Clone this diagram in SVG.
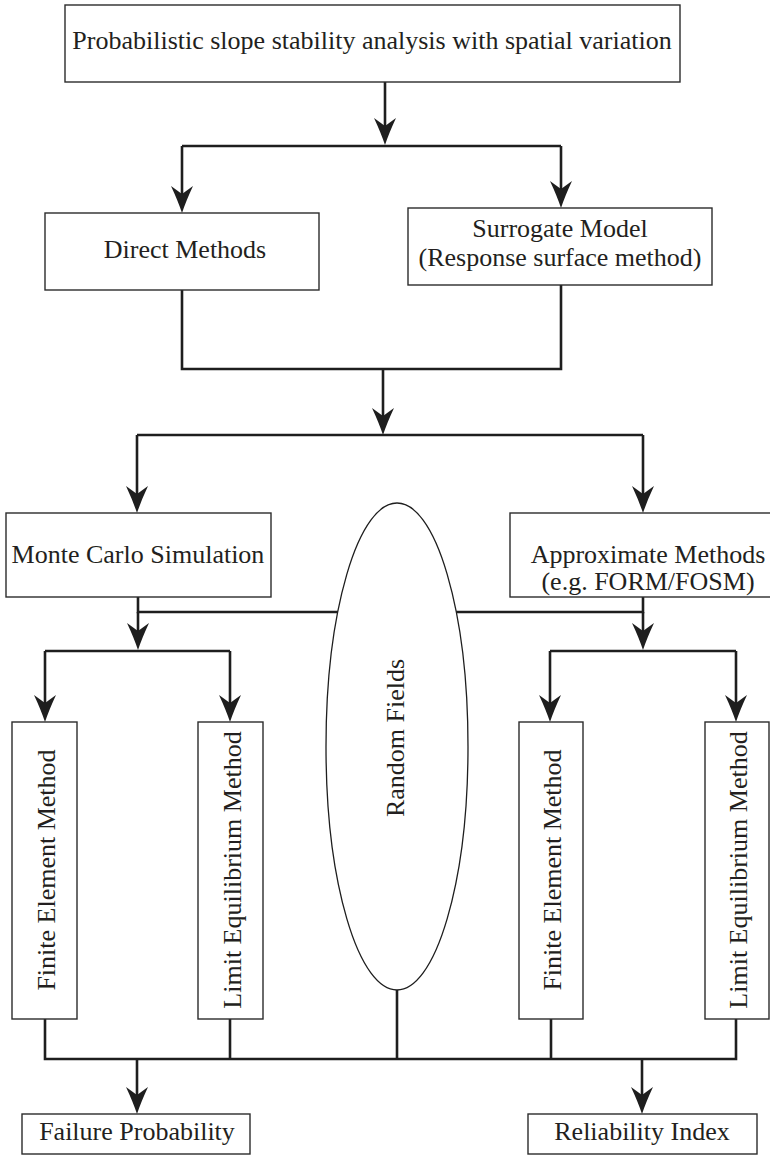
<svg xmlns="http://www.w3.org/2000/svg" width="770" height="1156" viewBox="0 0 770 1156">
<style>
  .box { fill: #ffffff; stroke: #2b2b2b; stroke-width: 1.4; }
  .ell { fill: none; stroke: #1e1e1e; stroke-width: 1.3; }
  .t { font-family: "Liberation Serif", "Times New Roman", serif; font-size: 26px; fill: #231f20; text-anchor: middle; }
  .ln { fill: none; stroke: #1e1e1e; stroke-width: 2.6; stroke-linecap: butt; stroke-linejoin: miter; }
  .arr { fill: none; stroke: #1e1e1e; stroke-width: 2.6; marker-end: url(#ah); }
</style>
<defs>
  <marker id="ah" markerUnits="userSpaceOnUse" viewBox="-22 -13 32 26" markerWidth="32" markerHeight="26" refX="0" refY="0" orient="auto" overflow="visible">
    <path d="M8,0 Q-4,-4 -19,-11 L-11,0 L-19,11 Q-4,4 8,0 Z" fill="#1e1e1e"/>
  </marker>
</defs>
<rect width="770" height="1156" fill="#ffffff"/>

<g id="connectors">
  <!-- top to first split -->
  <path class="arr" d="M385,82 V137"/>
  <path class="ln" d="M182,146 H561"/>
  <path class="arr" d="M182,146 V205"/>
  <path class="arr" d="M561,146 V200"/>
  <!-- merge to second split -->
  <path class="ln" d="M182,290 V369 H561 V285"/>
  <path class="arr" d="M383,369 V427"/>
  <path class="ln" d="M137,435 H643"/>
  <path class="arr" d="M137,435 V505"/>
  <path class="arr" d="M643,435 V505"/>
  <!-- middle tier -->
  <path class="ln" d="M138,597 V612 H337.8"/>
  <path class="ln" d="M456.2,612 H643 V597"/>
  <path class="arr" d="M138,612 V642"/>
  <path class="arr" d="M643,612 V642"/>
  <path class="ln" d="M45,651 H230"/>
  <path class="ln" d="M550,651 H736"/>
  <path class="arr" d="M45,651 V714"/>
  <path class="arr" d="M230,651 V714"/>
  <path class="arr" d="M550,651 V714"/>
  <path class="arr" d="M736,651 V714"/>
  <!-- bottom collection -->
  <path class="ln" d="M45,1019 V1059 H736 V1019"/>
  <path class="ln" d="M230,1019 V1059"/>
  <path class="ln" d="M551,1019 V1059"/>
  <path class="ln" d="M397,990 V1059"/>
  <path class="arr" d="M137,1059 V1106"/>
  <path class="arr" d="M642,1059 V1106"/>
</g>

<g id="n-top">
  <rect class="box" x="65" y="5" width="615" height="77"/>
  <text class="t" x="372" y="49">Probabilistic slope stability analysis with spatial variation</text>
</g>
<g id="n-direct">
  <rect class="box" x="45" y="213" width="274" height="77"/>
  <text class="t" x="185" y="258">Direct Methods</text>
</g>
<g id="n-surrogate">
  <rect class="box" x="408" y="208" width="304" height="77"/>
  <text class="t" x="560" y="237">Surrogate Model</text>
  <text class="t" x="560" y="266">(Response surface method)</text>
</g>
<g id="n-mcs">
  <rect class="box" x="6" y="513" width="265" height="84"/>
  <text class="t" x="138" y="563">Monte Carlo Simulation</text>
</g>
<g id="n-approx">
  <rect class="box" x="510" y="513" width="262" height="84"/>
  <text class="t" x="648" y="563">Approximate Methods</text>
  <text class="t" x="648" y="590">(e.g. FORM/FOSM)</text>
</g>
<g id="n-random">
  <ellipse class="ell" cx="397" cy="746.5" rx="71" ry="243.5"/>
  <text class="t" transform="translate(404,738) rotate(-90)">Random Fields</text>
</g>
<g id="n-fem1">
  <rect class="box" x="12" y="722" width="65" height="297"/>
  <text class="t" transform="translate(55,870) rotate(-90)">Finite Element Method</text>
</g>
<g id="n-lem1">
  <rect class="box" x="198" y="722" width="65" height="297"/>
  <text class="t" transform="translate(241,870) rotate(-90)">Limit Equilibrium Method</text>
</g>
<g id="n-fem2">
  <rect class="box" x="519" y="722" width="64" height="297"/>
  <text class="t" transform="translate(561,870) rotate(-90)">Finite Element Method</text>
</g>
<g id="n-lem2">
  <rect class="box" x="705" y="722" width="64" height="297"/>
  <text class="t" transform="translate(747,870) rotate(-90)">Limit Equilibrium Method</text>
</g>
<g id="n-failure">
  <rect class="box" x="22" y="1114" width="228" height="40"/>
  <text class="t" x="137" y="1140">Failure Probability</text>
</g>
<g id="n-reliability">
  <rect class="box" x="528" y="1114" width="229" height="40"/>
  <text class="t" x="642" y="1140">Reliability Index</text>
</g>
</svg>
